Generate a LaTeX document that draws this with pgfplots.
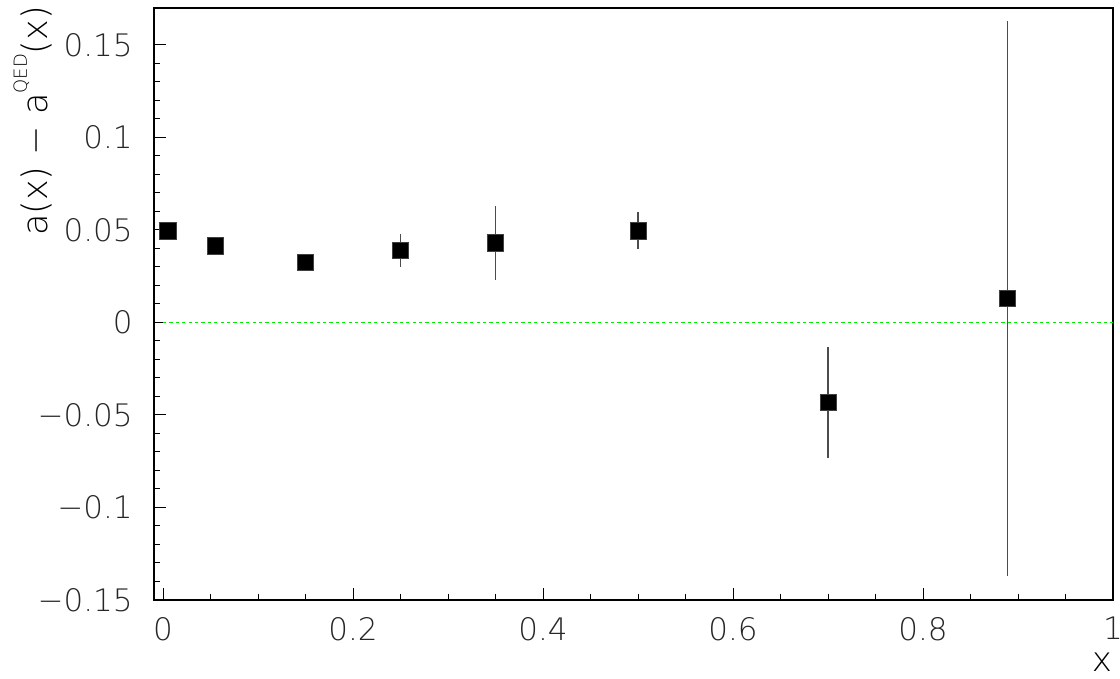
\documentclass[border=0pt]{standalone}
\usepackage{pgfplots}
\pgfplotsset{compat=1.18}
\usepackage{fontspec}
\setmainfont{DejaVu Sans ExtraLight}
\pgfplotstableread{
x y e
0.005 0.0495 0.003
0.055 0.0415 0.003
0.150 0.0325 0.003
0.250 0.0390 0.009
0.350 0.0430 0.020
0.500 0.0495 0.010
0.700 -0.0430 0.030
0.889 0.0130 0.150
}\datatable
\begin{document}
\begin{tikzpicture}
\useasboundingbox (-77pt,-39.5pt) rectangle (483pt,300pt);
\begin{axis}[
  at={(0,0)}, anchor=south west,
  scale only axis, width=479.5pt, height=296pt,
  xmin=-0.0095, xmax=1.0, ymin=-0.15, ymax=0.17,
  axis line style={line width=0.6pt},
  tick pos=left, tick align=inside,
  major tick length=6pt, minor tick length=3pt,
  tick style={black, line width=0.5pt},
  xtick={0,0.2,0.4,0.6,0.8,1}, xticklabels={0,0.2,0.4,0.6,0.8,1},
  minor x tick num=3,
  ytick={-0.15,-0.1,-0.05,0,0.05,0.1,0.15},
  yticklabels={−0.15,−0.1,−0.05,0,0.05,0.1,0.15},
  minor y tick num=4,
  tick label style={font=\fontsize{15.5}{17}\selectfont, black!85},
  xticklabel style={anchor=north, inner sep=0pt, yshift=-8.5pt},
  yticklabel style={anchor=east, inner sep=0pt, xshift=-10.5pt},
  every axis x label/.style={at={(axis description cs:1,0)}, anchor=base east, xshift=3pt, yshift=-36pt, font=\fontsize{17}{19}\selectfont},
  every axis y label/.style={at={(axis description cs:0,1)}, xshift=-53pt, yshift=4.5pt, rotate=90, anchor=base east, font=\fontsize{17.5}{19}\selectfont},
  xlabel={x},
  ylabel={a(x) − a\raisebox{0.6em}{\fontsize{9}{9}\selectfont QED}(x)},
  clip=false,
]
\addplot[draw={rgb,255:red,0;green,235;blue,0}, line width=0.8pt, dash pattern=on 1.6pt off 1.6pt] coordinates {(0,0) (1,0)};
\addplot[only marks, mark=square*, mark size=4.1pt,
  mark options={fill=black, draw=black!75, line width=0.3pt},
  error bars/.cd, y dir=both, y explicit, error mark=none,
  error bar style={black!70, line width=0.6pt}]
  table[x=x, y=y, y error=e] {\datatable};
\end{axis}
\end{tikzpicture}
\end{document}
